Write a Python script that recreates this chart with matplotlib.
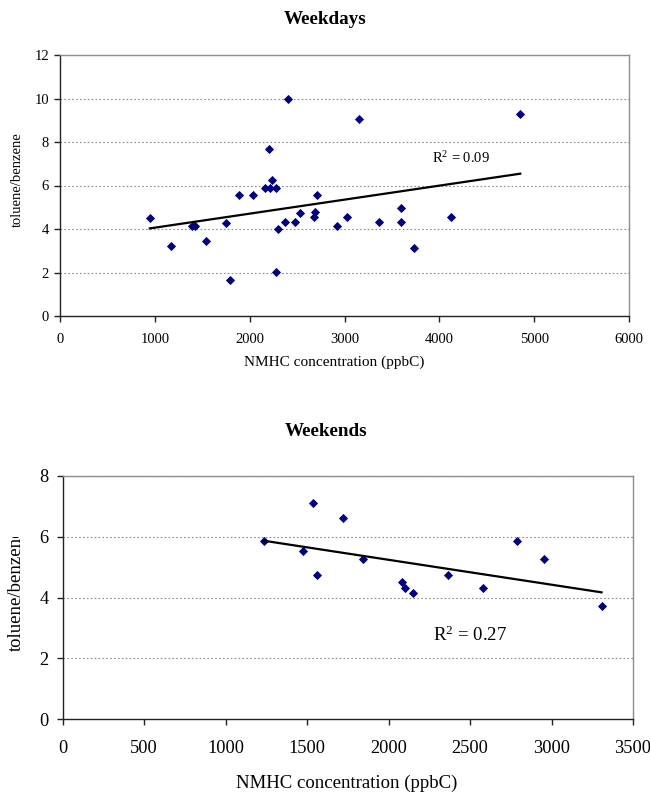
import numpy as np
import matplotlib
matplotlib.use("Agg")
import matplotlib.pyplot as plt
from matplotlib.transforms import Bbox, TransformedBbox

plt.rcParams["font.family"] = ["Liberation Serif", "DejaVu Serif"]
plt.rcParams["mathtext.fontset"] = "custom"
plt.rcParams["mathtext.rm"] = "Liberation Serif"
plt.rcParams["mathtext.it"] = "Liberation Serif:italic"

# Weekday samples: NMHC concentration (ppbC) vs toluene/benzene ratio
wd_nmhc = [947, 1175, 1396, 1421, 1544, 1754, 1789, 1888, 2035, 2158,
           2200, 2235, 2218, 2274, 2274, 2298, 2407, 2372, 2481, 2530,
           2677, 2691, 2705, 2916, 3025, 3151, 3361, 3593, 3593, 3733,
           4126, 4853]
wd_ratio = [4.52, 3.23, 4.15, 4.15, 3.46, 4.26, 1.66, 5.56, 5.56, 5.90,
            7.66, 6.25, 5.90, 5.90, 2.04, 3.98, 9.98, 4.32, 4.32, 4.75,
            4.54, 4.78, 5.56, 4.15, 4.54, 9.07, 4.32, 4.97, 4.32, 3.13,
            4.54, 9.30]
wd_r2_label = "0.09"

# Weekend samples
we_nmhc = [1235, 1474, 1535, 1563, 1718, 1843, 2082, 2100, 2148, 2362,
           2580, 2786, 2956, 3307]
we_ratio = [5.87, 5.53, 7.11, 4.75, 6.63, 5.26, 4.52, 4.31, 4.15, 4.75,
            4.32, 5.85, 5.26, 3.73]
we_r2_label = "0.27"

W, H = 650, 795
fig = plt.figure(figsize=(W / 100, H / 100), dpi=100)


def px_axes(l, t, r, b):
    return fig.add_axes([l / W, 1 - b / H, (r - l) / W, (b - t) / H])


def style_axes(ax, fs, xpad, ypad):
    for side in ("left", "bottom"):
        ax.spines[side].set_color("#222222")
        ax.spines[side].set_linewidth(1.0)
    for side in ("top", "right"):
        ax.spines[side].set_color("#8c8c8c")
        ax.spines[side].set_linewidth(1.0)
    ax.tick_params(axis="both", direction="out", length=4, width=1.0,
                   color="#222222", labelsize=fs)
    ax.tick_params(axis="x", pad=xpad)
    ax.tick_params(axis="y", pad=ypad)
    ax.yaxis.grid(True, linestyle=(0, (1.5, 2)), color="#8c8c8c", linewidth=0.8)
    ax.set_axisbelow(True)


def draw_panel(ax, x, y, xmax, ymax, xstep, ystep, r2_text, r2_xy, r2_fs):
    x = np.asarray(x, float)
    y = np.asarray(y, float)
    ax.plot(x, y, linestyle="none", marker="D", markersize=4.3,
            markerfacecolor="#00007f", markeredgecolor="#00007f",
            markeredgewidth=0.6, zorder=3)
    slope, icpt = np.polyfit(x, y, 1)
    xl = np.array([x.min(), x.max()])
    ax.plot(xl, slope * xl + icpt, color="black", linewidth=1.6, zorder=4)
    ax.set_xlim(0, xmax)
    ax.set_ylim(0, ymax)
    ax.set_xticks(np.arange(0, xmax + 1, xstep))
    ax.set_yticks(np.arange(0, ymax + 0.01, ystep))
    ax.text(r2_xy[0], r2_xy[1], "R$^2$ = " + r2_text, fontsize=r2_fs,
            ha="left", va="center")


# Weekdays panel
ax1 = px_axes(60, 55, 629, 316)
style_axes(ax1, 10.5, 8, 4)
draw_panel(ax1, wd_nmhc, wd_ratio, 6000, 12, 1000, 2,
           wd_r2_label, (3920, 7.25), 10.5)
ax1.set_ylabel("toluene/benzene", fontsize=10.5)
ax1.yaxis.set_label_coords(-0.064, 0.523)
ax1.set_xlabel("NMHC concentration (ppbC)", fontsize=11)
ax1.xaxis.set_label_coords(0.4815, -0.153)
fig.text(325 / W, 1 - 19 / H, "Weekdays", fontsize=13.8, fontweight="bold",
         ha="center", va="center")

# Weekends panel
ax2 = px_axes(62.7, 476, 633, 719.3)
style_axes(ax2, 13.2, 11, 6)
draw_panel(ax2, we_nmhc, we_ratio, 3500, 8, 500, 2,
           we_r2_label, (2270, 2.75), 13.5)
ylab = ax2.set_ylabel("toluene/benzene", fontsize=13.5)
ax2.yaxis.set_label_coords(-0.066, 0.532)
ylab.set_clip_box(TransformedBbox(Bbox([[0, 0], [1, 1 - 537 / H]]),
                                  fig.transFigure))
ylab.set_clip_on(True)
ax2.set_xlabel("NMHC concentration (ppbC)", fontsize=13.5)
ax2.xaxis.set_label_coords(0.4985, -0.229)
fig.text(326 / W, 1 - 432 / H, "Weekends", fontsize=13.8, fontweight="bold",
         ha="center", va="center")

fig.savefig("out.png", dpi=100, facecolor="white")
